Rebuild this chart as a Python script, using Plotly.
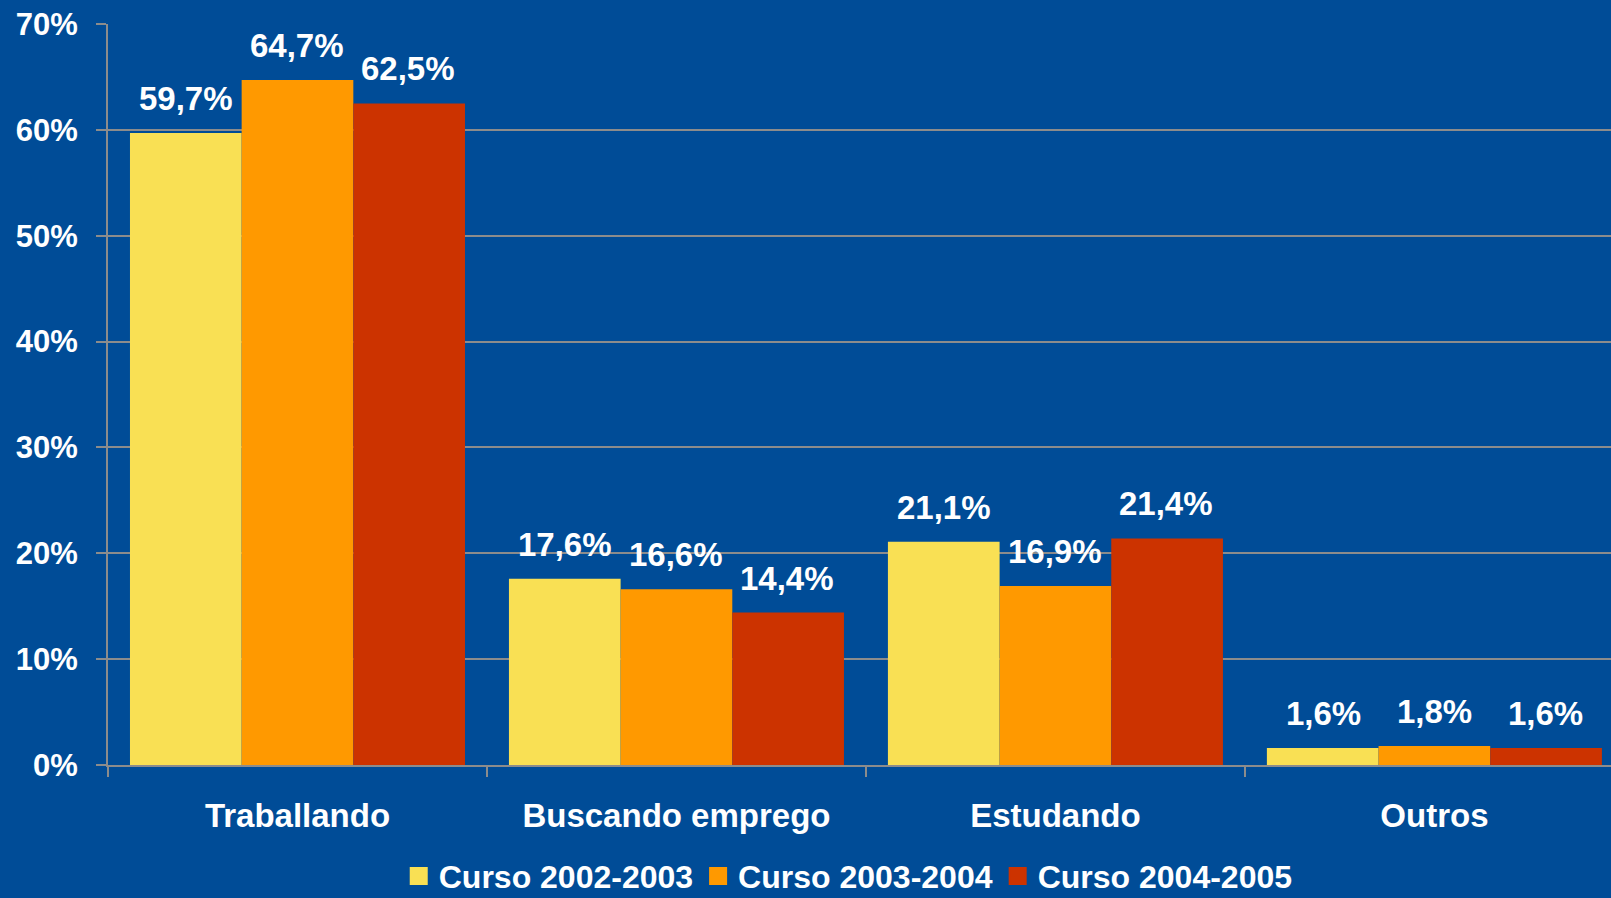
import plotly.graph_objects as go

categories = ["Traballando", "Buscando emprego", "Estudando", "Outros"]
series_names = ["Curso 2002-2003", "Curso 2003-2004", "Curso 2004-2005"]
values_2002 = [59.7, 17.6, 21.1, 1.6]
values_2003 = [64.7, 16.6, 16.9, 1.8]
values_2004 = [62.5, 14.4, 21.4, 1.6]
y_ticks = [0, 10, 20, 30, 40, 50, 60, 70]

colors = ["#F9E054", "#FF9900", "#CC3300"]
bg = "#004C97"
grid = "#8C8C8C"
font_family = "Liberation Sans, Arial, sans-serif"

fig = go.Figure()
all_values = [values_2002, values_2003, values_2004]
for name, vals, col in zip(series_names, all_values, colors):
    fig.add_trace(go.Bar(
        x=categories, y=vals, name=name,
        marker=dict(color=col, line=dict(width=0)),
        offsetgroup=name, showlegend=False,
    ))
# legend entries with larger square symbols
for name, col in zip(series_names, colors):
    fig.add_trace(go.Scatter(
        x=[None], y=[None], name=name, mode="markers",
        marker=dict(symbol="square", size=16, color=col, line=dict(color=col, width=2)),
        showlegend=True,
    ))

annotations = []
n = len(all_values)
for si, vals in enumerate(all_values):
    for ci, v in enumerate(vals):
        annotations.append(dict(
            x=ci, y=v, xref="x", yref="y",
            xshift=(si - (n - 1) / 2) * 111,
            yshift=14,
            text="<b>" + f"{v:.1f}".replace(".", ",") + "%</b>",
            showarrow=False, yanchor="bottom", xanchor="center",
            font=dict(family=font_family, size=33, color="white"),
        ))

fig.update_layout(
    width=1611, height=898,
    paper_bgcolor=bg, plot_bgcolor=bg,
    margin=dict(l=108, r=0, t=24, b=133, autoexpand=False),
    barmode="group", bargap=0.116, bargroupgap=0,
    font=dict(family=font_family, size=32, color="white"),
    annotations=annotations,
    showlegend=True,
    legend=dict(
        orientation="h", x=0.4925, xanchor="center", y=-0.15, yanchor="middle",
        font=dict(family=font_family, size=32, color="white", weight="bold"),
        bgcolor="rgba(0,0,0,0)", itemsizing="trace",
        itemwidth=30, tracegroupgap=0,
    ),
)
fig.update_xaxes(
    type="category", range=[-0.5, 3.466],
    showline=True, linecolor=grid, linewidth=2,
    ticks="outside", tickson="boundaries", ticklen=10, tickcolor=grid, tickwidth=2,
    tickfont=dict(family=font_family, size=33, color="white", weight="bold"),
    ticklabelstandoff=20,
    showgrid=False, zeroline=False,
)
fig.update_yaxes(
    range=[0, 70], tickvals=y_ticks, ticktext=[f"{t}%" for t in y_ticks],
    showline=True, linecolor=grid, linewidth=2,
    ticks="outside", ticklen=10, tickcolor=grid, tickwidth=2,
    tickfont=dict(family=font_family, size=31, color="white", weight="bold"),
    ticklabelstandoff=12,
    showgrid=True, gridcolor=grid, gridwidth=2, zeroline=False,
)

fig.write_html(
    "out.html",
    config={"displayModeBar": False},
    post_script="document.body.style.margin='0';document.body.style.overflow='hidden';",
)
